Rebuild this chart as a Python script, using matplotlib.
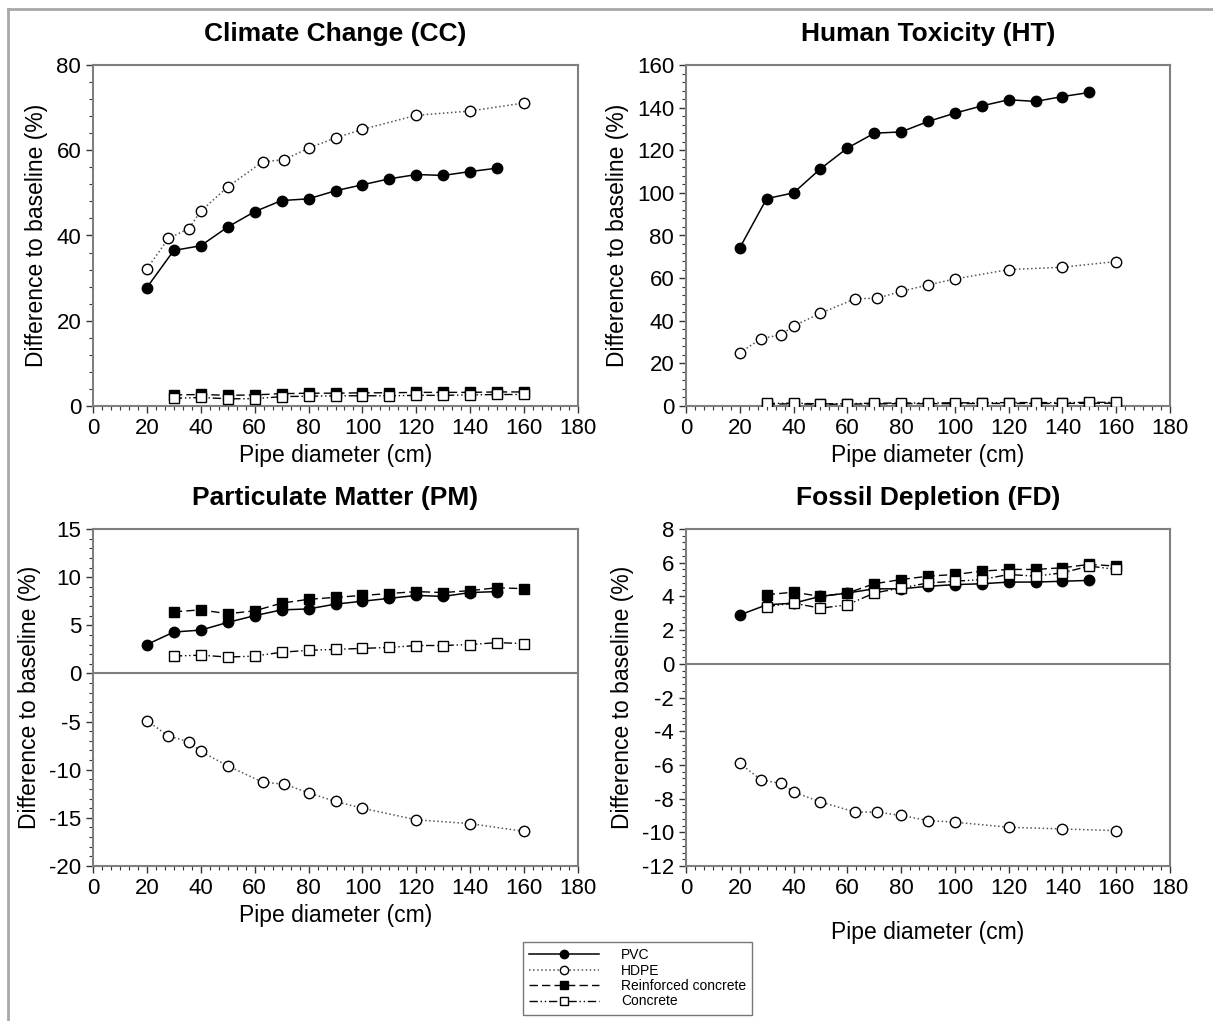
import matplotlib
matplotlib.use("Agg")
import matplotlib.pyplot as plt
from matplotlib.ticker import MultipleLocator, AutoMinorLocator
from matplotlib.lines import Line2D

plt.rcParams['font.family'] = ['Liberation Sans', 'DejaVu Sans']
plt.rcParams['axes.unicode_minus'] = False

# x values (pipe diameter, cm)
x_pvc = [20, 30, 40, 50, 60, 70, 80, 90, 100, 110, 120, 130, 140, 150]
x_hdpe = [20, 28, 35.5, 40, 50, 63, 71, 80, 90, 100, 120, 140, 160]
x_conc = [30, 40, 50, 60, 70, 80, 90, 100, 110, 120, 130, 140, 150, 160]

# Climate Change
cc_pvc = [27.8, 36.5, 37.6, 42.0, 45.6, 48.2, 48.6, 50.5, 51.9, 53.3, 54.3, 54.1, 55.0, 55.8]
cc_hdpe = [32.2, 39.3, 41.6, 45.7, 51.4, 57.3, 57.8, 60.5, 62.9, 64.9, 68.2, 69.2, 71.1]
cc_rc = [2.6, 2.7, 2.5, 2.6, 2.9, 3.0, 3.0, 3.1, 3.1, 3.2, 3.2, 3.2, 3.3, 3.3]
cc_conc = [1.8, 2.0, 1.7, 1.7, 2.2, 2.3, 2.4, 2.4, 2.4, 2.5, 2.5, 2.6, 2.7, 2.7]

# Human Toxicity
ht_pvc = [74.2, 97.3, 100.0, 111.3, 121.0, 128.0, 128.6, 133.5, 137.4, 140.8, 143.7, 142.9, 145.2, 147.1]
ht_hdpe = [25.0, 31.6, 33.5, 37.6, 43.5, 50.4, 50.5, 53.8, 56.8, 59.6, 64.0, 65.1, 67.8]
ht_rc = [0.9, 1.0, 0.8, 0.9, 1.0, 1.1, 1.1, 1.1, 1.2, 1.2, 1.2, 1.2, 1.3, 1.3]
ht_conc = [1.2, 1.3, 1.0, 1.1, 1.3, 1.4, 1.4, 1.5, 1.5, 1.6, 1.6, 1.6, 1.7, 1.7]

# Particulate Matter
pm_pvc = [3.0, 4.3, 4.5, 5.3, 6.0, 6.6, 6.7, 7.2, 7.5, 7.8, 8.1, 8.0, 8.4, 8.5]
pm_hdpe = [-4.9, -6.5, -7.1, -8.1, -9.6, -11.3, -11.5, -12.4, -13.3, -14.0, -15.2, -15.6, -16.4]
pm_rc = [6.4, 6.6, 6.2, 6.5, 7.3, 7.7, 7.9, 8.1, 8.3, 8.5, 8.4, 8.6, 8.9, 8.8]
pm_conc = [1.8, 1.9, 1.7, 1.8, 2.2, 2.4, 2.5, 2.6, 2.7, 2.9, 2.9, 3.0, 3.2, 3.1]

# Fossil Depletion
fd_pvc = [2.9, 3.5, 3.6, 4.0, 4.2, 4.45, 4.45, 4.6, 4.7, 4.75, 4.85, 4.85, 4.9, 4.95]
fd_hdpe = [-5.9, -6.9, -7.1, -7.6, -8.2, -8.8, -8.8, -9.0, -9.3, -9.4, -9.7, -9.8, -9.9]
fd_rc = [4.1, 4.25, 4.0, 4.2, 4.75, 5.0, 5.2, 5.3, 5.5, 5.6, 5.6, 5.7, 5.9, 5.8]
fd_conc = [3.4, 3.6, 3.3, 3.5, 4.2, 4.5, 4.8, 4.9, 5.0, 5.3, 5.2, 5.4, 5.8, 5.6]

W, H = 1213, 1021
fig = plt.figure(figsize=(W / 100, H / 100), dpi=100)

def px(l, t, r, b):
    return [l / W, 1 - b / H, (r - l) / W, (b - t) / H]

panels = [
    ("Climate Change (CC)", px(93, 65, 578, 406), (0, 80), 20, 4, cc_pvc, cc_hdpe, cc_rc, cc_conc, False, 4),
    ("Human Toxicity (HT)", px(686, 65, 1170, 406), (0, 160), 20, 4, ht_pvc, ht_hdpe, ht_rc, ht_conc, False, 4),
    ("Particulate Matter (PM)", px(93, 529, 578, 866), (-20, 15), 5, 1, pm_pvc, pm_hdpe, pm_rc, pm_conc, True, 4),
    ("Fossil Depletion (FD)", px(686, 529, 1170, 866), (-12, 8), 2, 0.4, fd_pvc, fd_hdpe, fd_rc, fd_conc, True, 16),
]

spine_col = "#7f7f7f"
handles = None
for title, pos, ylim, major, minor, pvc, hdpe, rc, conc, zero, lpad in panels:
    ax = fig.add_axes(pos)
    if zero:
        ax.axhline(0, color=spine_col, lw=1.5, zorder=1)
    h1, = ax.plot(x_pvc, pvc, "-", color="black", lw=1.1, marker="o", ms=7.5,
                  mfc="black", mec="black", label="PVC", zorder=3)
    h2, = ax.plot(x_hdpe, hdpe, ":", color="#555555", lw=1.1, marker="o", ms=7.5,
                  mfc="white", mec="black", mew=1.0, label="HDPE", zorder=3)
    h3, = ax.plot(x_conc, rc, "--", color="black", lw=1.0, dashes=(6, 3), marker="s", ms=6.5,
                  mfc="black", mec="black", label="Reinforced concrete", zorder=3)
    h4, = ax.plot(x_conc, conc, color="black", lw=1.0, dashes=(6, 2, 1, 2, 1, 2), marker="s", ms=6.5,
                  mfc="white", mec="black", mew=1.0, label="Concrete", zorder=3)
    handles = [h1, h2, h3, h4]
    ax.set_xlim(0, 180)
    ax.set_ylim(*ylim)
    ax.xaxis.set_major_locator(MultipleLocator(20))
    ax.xaxis.set_minor_locator(AutoMinorLocator(6))
    ax.yaxis.set_major_locator(MultipleLocator(major))
    ax.yaxis.set_minor_locator(MultipleLocator(minor))
    for s in ax.spines.values():
        s.set_color(spine_col)
        s.set_linewidth(1.5)
    ax.tick_params(which="both", direction="out", color="#333333", labelsize=16, top=False, right=False)
    ax.tick_params(which="major", length=5, width=1)
    ax.tick_params(which="minor", length=3, width=0.8)
    ax.set_title(title, fontsize=19, fontweight="bold", pad=17)
    ax.set_xlabel("Pipe diameter (cm)", fontsize=16.5, labelpad=lpad)
    ax.set_ylabel("Difference to baseline (%)", fontsize=16.5, labelpad=6)

leg = fig.legend(handles=handles, loc="upper left", bbox_to_anchor=(523 / W, 1 - 942 / H),
                 fontsize=10, handlelength=5.0, frameon=True, fancybox=False,
                 edgecolor="#555555", borderpad=0.45, labelspacing=0.1, handletextpad=1.6,
                 borderaxespad=0, markerscale=0.8)
leg.get_frame().set_linewidth(1.0)

# outer frame lines (left and top)
fig.add_artist(Line2D([7.5 / W, 7.5 / W], [0, 1 - 9 / H], transform=fig.transFigure, color="#a8a8a8", lw=2))
fig.add_artist(Line2D([7.5 / W, 1], [1 - 9 / H, 1 - 9 / H], transform=fig.transFigure, color="#a8a8a8", lw=2))

fig.savefig("out.png", dpi=100)
